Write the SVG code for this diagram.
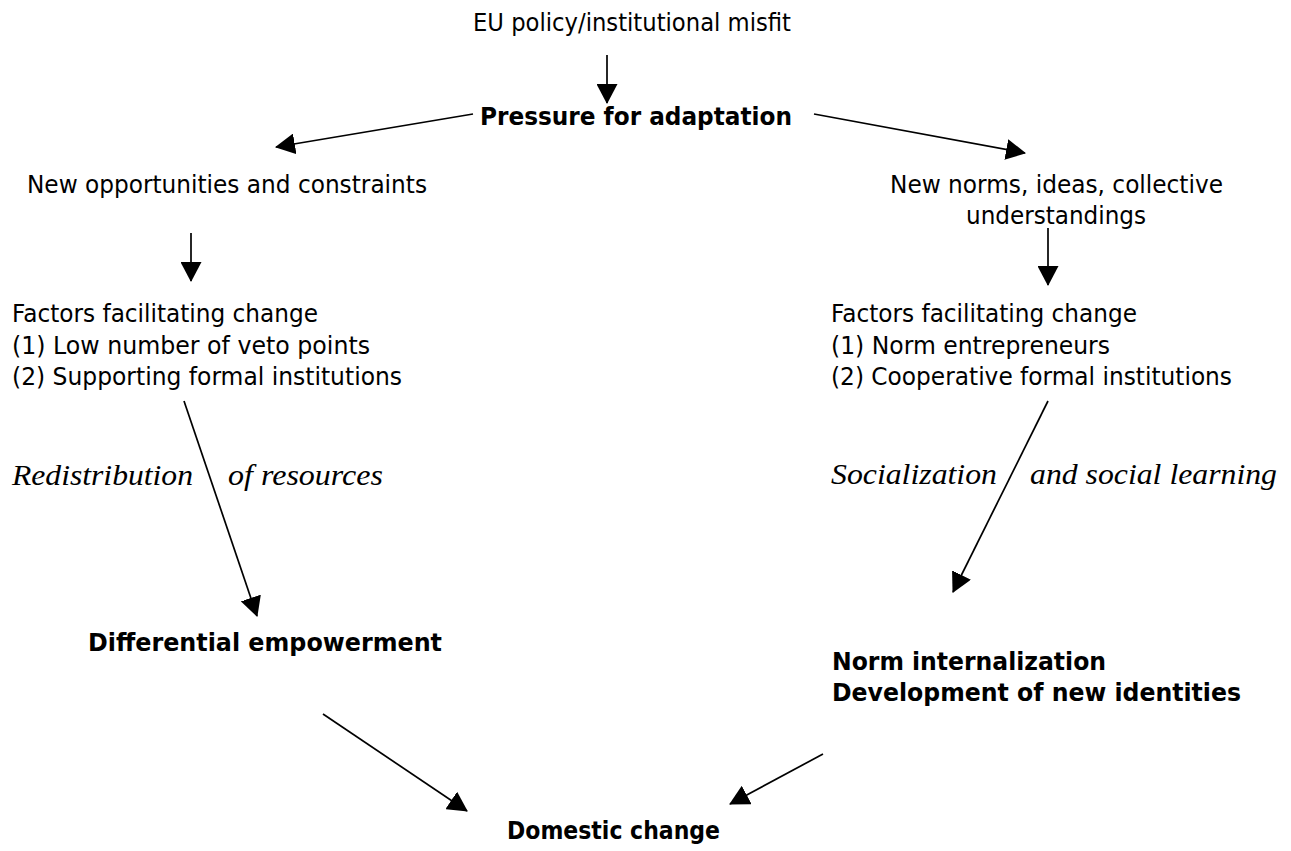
<svg xmlns="http://www.w3.org/2000/svg" width="1291" height="851" viewBox="0 0 1291 851">
<style>
.t{font-family:"DejaVu Sans","Liberation Sans",sans-serif;font-size:24px;fill:#000}
.b{font-family:"DejaVu Sans","Liberation Sans",sans-serif;font-size:24px;font-weight:bold;fill:#000}
.i{font-family:"Liberation Serif","DejaVu Serif",serif;font-size:29px;font-style:italic;fill:#000}
.c line{stroke:#000;stroke-width:1.7;marker-end:url(#ah)}
</style>
<defs>
<marker id="ah" viewBox="0 0 20 21" refX="19" refY="10.5" markerWidth="20" markerHeight="21" markerUnits="userSpaceOnUse" orient="auto">
<path d="M0,0 L20,10.5 L0,21 z" fill="#000"/>
</marker>
</defs>
<rect width="1291" height="851" fill="#fff"/>
<g id="misfit"><text class="t" x="473" y="31" textLength="318" lengthAdjust="spacingAndGlyphs">EU policy/institutional misfit</text></g>
<g id="pressure"><text class="b" x="480" y="125" textLength="312" lengthAdjust="spacingAndGlyphs">Pressure for adaptation</text></g>
<g id="opportunities"><text class="t" x="27" y="193" textLength="400" lengthAdjust="spacingAndGlyphs">New opportunities and constraints</text></g>
<g id="norms"><text class="t" x="890" y="193" textLength="333" lengthAdjust="spacingAndGlyphs">New norms, ideas, collective</text>
<text class="t" x="966" y="224" textLength="180" lengthAdjust="spacingAndGlyphs">understandings</text></g>
<g id="factors-left">
<text class="t" x="12" y="322" textLength="306" lengthAdjust="spacingAndGlyphs">Factors facilitating change</text>
<text class="t" x="12" y="353.5" textLength="358" lengthAdjust="spacingAndGlyphs">(1) Low number of veto points</text>
<text class="t" x="12" y="385" textLength="390" lengthAdjust="spacingAndGlyphs">(2) Supporting formal institutions</text>
</g>
<g id="factors-right">
<text class="t" x="831" y="322" textLength="306" lengthAdjust="spacingAndGlyphs">Factors facilitating change</text>
<text class="t" x="831" y="353.5" textLength="279" lengthAdjust="spacingAndGlyphs">(1) Norm entrepreneurs</text>
<text class="t" x="831" y="385" textLength="401" lengthAdjust="spacingAndGlyphs">(2) Cooperative formal institutions</text>
</g>
<g id="label-left">
<text class="i" x="12" y="485" textLength="181" lengthAdjust="spacingAndGlyphs">Redistribution</text>
<text class="i" x="228" y="485" textLength="155" lengthAdjust="spacingAndGlyphs">of resources</text>
</g>
<g id="label-right">
<text class="i" x="831" y="484" textLength="166" lengthAdjust="spacingAndGlyphs">Socialization</text>
<text class="i" x="1030" y="484" textLength="247" lengthAdjust="spacingAndGlyphs">and social learning</text>
</g>
<g id="empowerment"><text class="b" x="88" y="651" textLength="354" lengthAdjust="spacingAndGlyphs">Differential empowerment</text></g>
<g id="internalization">
<text class="b" x="832" y="670" textLength="274" lengthAdjust="spacingAndGlyphs">Norm internalization</text>
<text class="b" x="832" y="701" textLength="409" lengthAdjust="spacingAndGlyphs">Development of new identities</text>
</g>
<g id="domestic"><text class="b" x="507" y="839" textLength="213" lengthAdjust="spacingAndGlyphs">Domestic change</text></g>
<g class="c" id="connectors">
<line x1="607" y1="55" x2="607" y2="103"/>
<line x1="473" y1="114" x2="276" y2="147"/>
<line x1="814" y1="114" x2="1025" y2="153"/>
<line x1="191" y1="233" x2="191" y2="281"/>
<line x1="1048" y1="228" x2="1048" y2="285"/>
<line x1="184" y1="401" x2="257" y2="616"/>
<line x1="1048" y1="401" x2="953" y2="592"/>
<line x1="323" y1="714" x2="467" y2="811"/>
<line x1="823" y1="754" x2="730" y2="804"/>
</g>
</svg>
